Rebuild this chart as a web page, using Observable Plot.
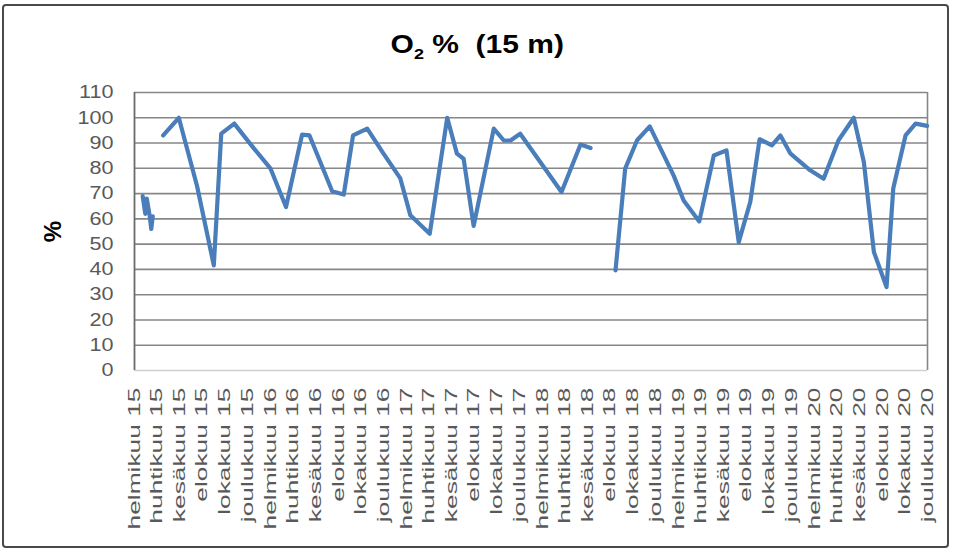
<!DOCTYPE html>
<html>
<head>
<meta charset="utf-8">
<script src="https://cdn.jsdelivr.net/npm/d3@7"></script>
<script src="https://cdn.jsdelivr.net/npm/@observablehq/plot@0.6"></script>
<style>
  body { margin: 0; background: #fff; font-family: "Liberation Sans", Arial, sans-serif; }
  #wrap { position: relative; width: 954px; height: 552px; overflow: hidden; background: #fff; }
  #frame { position: absolute; left: 2px; top: 4px; width: 943px; height: 540px; border: 2px solid #4a4a4a; border-radius: 4px; pointer-events: none; }
  #title { position: absolute; left: 0; top: 30px; width: 954px; text-align: center; font-weight: bold; font-size: 25px; line-height: 28px; color: #000; }
  #title span { display: inline-block; transform: scaleX(1.2); white-space: pre; }
  #title sub { font-size: 15px; vertical-align: -6px; }
  #chart { position: absolute; left: 0; top: 0; }
</style>
</head>
<body>
<div id="wrap">
  <div id="chart"></div>
  <div id="title"><span>O<sub>2</sub> %  (15 m)</span></div>
  <div id="frame"></div>
</div>
<script>
// ---- data ----
const dates = [
  "2015-02-23","2015-03-02","2015-03-06","2015-03-14","2015-03-18","2015-03-22",
  "2015-04-05",
  "2015-04-19","2015-05-31","2015-07-19","2015-09-02","2015-09-22","2015-10-27","2015-12-18",
  "2016-02-01","2016-03-14","2016-04-26","2016-05-16","2016-07-16","2016-08-16","2016-09-10",
  "2016-10-18","2016-11-30","2017-01-15","2017-02-11","2017-04-04","2017-05-21","2017-06-16",
  "2017-07-04","2017-07-31","2017-09-23","2017-10-20","2017-11-07","2017-12-03","2018-03-24",
  "2018-05-14","2018-06-10",
  "2018-07-15",
  "2018-08-16","2018-09-11","2018-10-13","2018-11-16","2019-01-19","2019-02-15","2019-03-29",
  "2019-05-07","2019-06-10","2019-07-13","2019-08-13","2019-09-07","2019-10-10","2019-11-02",
  "2019-11-29","2020-01-21","2020-02-26","2020-04-06","2020-05-17","2020-06-13","2020-07-10",
  "2020-08-13","2020-08-31","2020-10-03","2020-10-30","2020-11-30"
];
const o2 = [
  69, 62, 68, 61, 56, 61,
  NaN,
  93, 100, 73, 41.6, 93.7, 97.7, 88,
  80, 64.7, 93.3, 93, 70.9, 69.6, 93,
  95.7, 86, 76, 61.4, 54.1, 100, 85.8,
  83.8, 57.2, 95.7, 91, 91, 93.7, 70.6,
  89.4, 88,
  NaN,
  39.6, 79.9, 91.1, 96.6, 77.2, 67.3, 59,
  85.1, 87.1, 50.8, 66.7, 91.5, 89.1, 93,
  85.8, 79.2, 75.9, 91.1, 100, 82.5, 46.9,
  33, 72, 93, 97.7, 96.8
];
const yTicks = [0, 10, 20, 30, 40, 50, 60, 70, 80, 90, 100, 110];
const monthNames = ["tammikuu","helmikuu","maaliskuu","huhtikuu","toukokuu","kesäkuu",
                    "heinäkuu","elokuu","syyskuu","lokakuu","marraskuu","joulukuu"];
const xStart = "2015-02-01";
const xEnd = "2020-12-01";
const yLabel = "%";

// ---- build ----
const data = dates.map((d, i) => ({date: new Date(d + "T00:00:00Z"), value: o2[i]}));
const x0 = new Date(xStart + "T00:00:00Z");
const x1 = new Date(xEnd + "T00:00:00Z");
const xTicks = d3.utcMonths(x0, new Date(+x1 + 86400000), 2);
const fmt = d => monthNames[d.getUTCMonth()] + " " + String(d.getUTCFullYear()).slice(2);

const plot = Plot.plot({
  width: 954,
  height: 552,
  marginTop: 92,
  marginBottom: 182,
  marginLeft: 134,
  marginRight: 27,
  style: {fontFamily: "'Liberation Sans', Arial, sans-serif", fontSize: "17px", color: "#595959", background: "transparent"},
  x: {type: "utc", domain: [x0, x1]},
  y: {domain: [0, 110]},
  marks: [
    Plot.ruleY([0], {stroke: "#d0d0d0", strokeWidth: 1.5}),
    Plot.ruleY(yTicks.filter(d => d > 0), {stroke: "#878787", strokeWidth: 1.6}),
    Plot.ruleX([x1], {stroke: "#878787", strokeWidth: 1.6}),
    Plot.ruleX([x0], {stroke: "#6b6b6b", strokeWidth: 1.8}),
    Plot.line(data, {x: "date", y: "value", stroke: "#4a7ebb", strokeWidth: 4.2, strokeLinejoin: "round", strokeLinecap: "round"}),
    Plot.axisX({ticks: xTicks, tickFormat: fmt, tickRotate: -90, tickSize: 0, tickPadding: 17, fill: "#595959", label: null}),
    Plot.axisY({ticks: yTicks, tickSize: 0, tickPadding: 21, fontSize: 18, fill: "#595959", label: null}),
    Plot.text([yLabel], {frameAnchor: "left", textAnchor: "middle", dx: -81, rotate: -90, fontWeight: "bold", fontSize: 24, fill: "#000"})
  ]
});
document.getElementById("chart").appendChild(plot);

// stretch tick labels like the (non-uniformly scaled) reference image
plot.querySelectorAll('g[aria-label="x-axis tick label"] text').forEach(t => {
  const tr = t.getAttribute("transform") || "";
  t.setAttribute("transform", tr + " scale(1.55,1)");
});
plot.querySelectorAll('g[aria-label="y-axis tick label"] text').forEach(t => {
  const tr = t.getAttribute("transform") || "";
  t.setAttribute("transform", tr + " scale(1.2,1)");
});
</script>
</body>
</html>
